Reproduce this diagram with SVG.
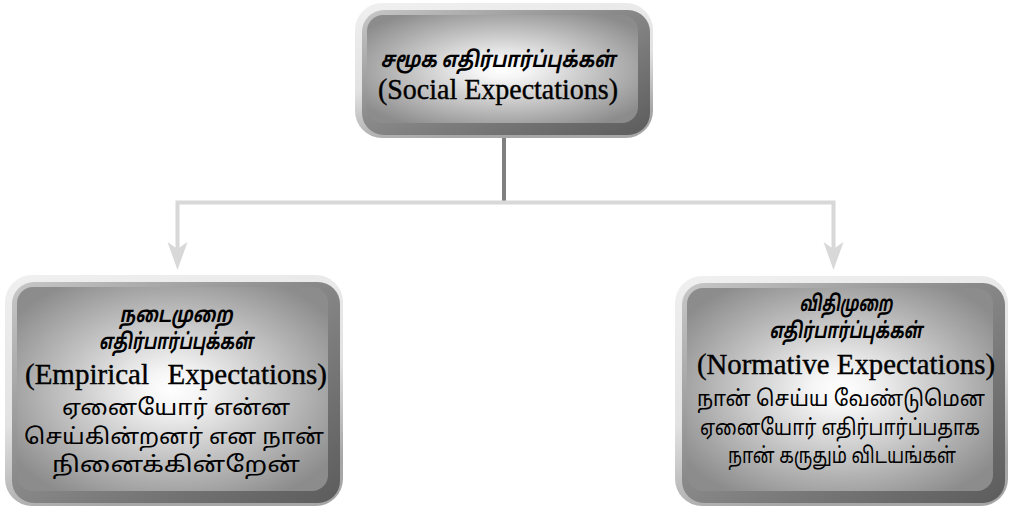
<svg xmlns="http://www.w3.org/2000/svg" width="1013" height="507" viewBox="0 0 1013 507">
<defs>
<linearGradient id="rim" x1="0" y1="0" x2="0.3" y2="1">
<stop offset="0" stop-color="#f0f0f0"/>
<stop offset="0.6" stop-color="#e2e2e2"/>
<stop offset="1" stop-color="#a6a6a6"/>
</linearGradient>
<linearGradient id="bevel" x1="0" y1="0" x2="1" y2="1">
<stop offset="0" stop-color="#c8c8c8"/>
<stop offset="0.45" stop-color="#8a8a8a"/>
<stop offset="1" stop-color="#5c5c5c"/>
</linearGradient>
<radialGradient id="face" cx="0.5" cy="0.5" r="0.62">
<stop offset="0" stop-color="#ffffff"/>
<stop offset="0.15" stop-color="#f5f5f5"/>
<stop offset="1" stop-color="#8c8c8c"/>
</radialGradient>
<style>
.rim{fill:url(#rim)}
.bev{fill:url(#bevel)}
.face{fill:url(#face)}
.ta{font-family:"Noto Sans Tamil","Noto Serif Tamil","Lohit Tamil","Latha","Noto Sans","DejaVu Sans",sans-serif;fill:#000;text-anchor:middle}
.tb{font-weight:bold;font-style:italic;font-size:22px}
.tr{font-size:22px}
.en{font-family:"Liberation Serif","Times New Roman",serif;font-size:29px;fill:#000;stroke:#000;stroke-width:0.4;text-anchor:middle}
.conn{stroke:#d8d8d8;stroke-width:4;fill:none}
.head{fill:#d8d8d8}
</style>
</defs>
<g id="connectors">
<line x1="504" y1="138" x2="504" y2="202" stroke="#7f7f7f" stroke-width="4"/>
<polyline class="conn" points="177.5,250 177.5,202.5 833.5,202.5 833.5,250"/>
<polygon class="head" points="177.5,270 167.5,242 177.5,249 187.5,242"/>
<polygon class="head" points="833.5,270 823.5,242 833.5,249 843.5,242"/>
</g>
<g id="node-social">
<rect class="rim" x="355" y="3" width="298" height="135" rx="27"/>
<rect class="bev" x="362" y="10" width="288" height="125" rx="22"/>
<rect class="face" x="367" y="15" width="271" height="108" rx="16"/>
<text class="ta tb" x="498" y="67" textLength="235" lengthAdjust="spacingAndGlyphs">சமூக எதிர்பார்ப்புக்கள்</text>
<text class="en" x="498" y="99" textLength="240" lengthAdjust="spacingAndGlyphs">(Social Expectations)</text>
</g>
<g id="node-empirical">
<rect class="rim" x="5" y="275" width="338" height="231" rx="27"/>
<rect class="bev" x="12" y="282" width="328" height="221" rx="22"/>
<rect class="face" x="17" y="287" width="311" height="204" rx="16"/>
<text class="ta tb" x="176" y="322" textLength="113" lengthAdjust="spacingAndGlyphs">நடைமுறை</text>
<text class="ta tb" x="176" y="349" textLength="154" lengthAdjust="spacingAndGlyphs">எதிர்பார்ப்புக்கள்</text>
<text class="en" x="25" y="384" style="text-anchor:start">(Empirical</text>
<text class="en" x="327" y="384" style="text-anchor:end">Expectations)</text>
<text class="ta tr" x="176" y="415" textLength="228" lengthAdjust="spacingAndGlyphs">ஏனையோர் என்ன</text>
<text class="ta tr" x="174" y="444" textLength="300" lengthAdjust="spacingAndGlyphs">செய்கின்றனர் என நான்</text>
<text class="ta tr" x="176" y="472" textLength="248" lengthAdjust="spacingAndGlyphs">நினைக்கின்றேன்</text>
</g>
<g id="node-normative">
<rect class="rim" x="675" y="276" width="333" height="230" rx="27"/>
<rect class="bev" x="682" y="283" width="323" height="220" rx="22"/>
<rect class="face" x="687" y="288" width="306" height="203" rx="16"/>
<text class="ta tb" x="846" y="311" textLength="93" lengthAdjust="spacingAndGlyphs">விதிமுறை</text>
<text class="ta tb" x="846" y="338" textLength="153" lengthAdjust="spacingAndGlyphs">எதிர்பார்ப்புக்கள்</text>
<text class="en" x="846" y="374" textLength="298" lengthAdjust="spacingAndGlyphs">(Normative Expectations)</text>
<text class="ta tr" x="841" y="406" textLength="288" lengthAdjust="spacingAndGlyphs">நான் செய்ய வேண்டுமென</text>
<text class="ta tr" x="840" y="435" textLength="280" lengthAdjust="spacingAndGlyphs">ஏனையோர் எதிர்பார்ப்பதாக</text>
<text class="ta tr" x="842" y="463" textLength="228" lengthAdjust="spacingAndGlyphs">நான் கருதும் விடயங்கள்</text>
</g>
</svg>
